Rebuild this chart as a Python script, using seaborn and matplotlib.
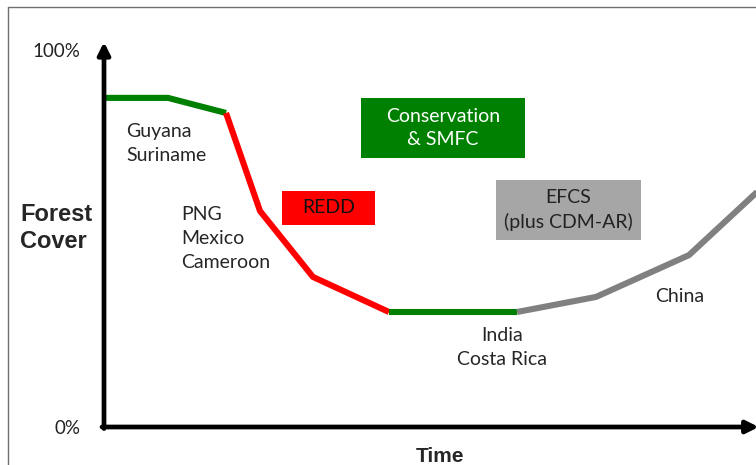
import matplotlib.pyplot as plt
import matplotlib as mpl
from matplotlib.patches import Rectangle
import seaborn as sns
import pandas as pd

# forest transition curve (time in arbitrary units, cover in %)
time = [0, 6.4, 12.2, 15.6, 20.9, 28.5, 41.3, 49.2, 58.5, 67.0]
cover = [87.3, 87.3, 83.3, 57.3, 39.8, 30.5, 30.5, 34.5, 45.6, 66.5]
# colour phases: (first index, last index, phase)
phases = [(0, 2, 'conservation'), (2, 5, 'redd'), (5, 6, 'conservation'), (6, 9, 'efcs')]
phase_colors = {'conservation': '#008000', 'redd': '#FF0000', 'efcs': '#808080'}

y_ticks = [0, 100]
y_tick_labels = ['0%', '100%']

sns.set_theme(style="white")
mpl.rcParams.update({
    'font.family': ['Lato', 'DejaVu Sans'],
    'font.size': 14,
})

fig = plt.figure(figsize=(7.56, 4.65), dpi=100)
W, H = 756, 465
ax = fig.add_axes([104 / W, (H - 427) / H, 658 / W, (427 - 42) / H])

for i0, i1, ph in phases:
    seg = pd.DataFrame({'Time': time[i0:i1 + 1], 'Cover': cover[i0:i1 + 1]})
    sns.lineplot(data=seg, x='Time', y='Cover', sort=False, color=phase_colors[ph],
                 linewidth=4.4, ax=ax, solid_capstyle='butt')

ax.set_xlim(0, 65.8)
ax.set_ylim(0, (427 - 42) / 3.77)
ax.set_xticks([])
ax.set_yticks(y_ticks)
ax.set_yticklabels(y_tick_labels, fontsize=13.5, color='#222222')
ax.tick_params(axis='y', length=0, pad=17)
ax.set_xlabel('')
ax.set_ylabel('')
for s in ax.spines.values():
    s.set_visible(False)

# axis arrows
arrow = dict(arrowstyle='-|>', lw=3.4, color='black', mutation_scale=18, shrinkA=0, shrinkB=0)
ax.annotate('', xy=(0, 1), xytext=(0, -0.004), xycoords='axes fraction', arrowprops=arrow)
ax.annotate('', xy=(0.995, 0), xytext=(-0.003, 0), xycoords='axes fraction', arrowprops=arrow)

# policy boxes
boxes = [
    (25.7, 71.4, 16.4, 15.9, '#008000', 'Conservation\n& SMFC', 'white'),
    (17.8, 53.6, 9.3, 9.0, '#FF0000', 'REDD', '#111111'),
    (39.2, 49.6, 14.5, 15.9, '#A6A6A6', 'EFCS\n(plus CDM-AR)', '#222222'),
]
for x0, y0, w, h, fc, txt, tc in boxes:
    ax.add_patch(Rectangle((x0, y0), w, h, facecolor=fc, edgecolor='none', zorder=3))
    ax.text(x0 + w / 2, y0 + h / 2, txt, ha='center', va='center', color=tc,
            linespacing=1.45, zorder=4)

# country labels
ax.text(2.2, 75.3, 'Guyana\nSuriname', ha='left', va='center', linespacing=1.5)
ax.text(7.7, 49.9, 'PNG\nMexico\nCameroon', ha='left', va='center', linespacing=1.5)
ax.text(39.8, 21.2, 'India\nCosta Rica', ha='center', va='center', linespacing=1.5)
ax.text(57.6, 34.5, 'China', ha='center', va='center')

fig.text(20 / W, 1 - 228 / H, 'Forest\nCover', ha='left', va='center', fontsize=17,
         fontweight='bold', family='Liberation Sans', linespacing=1.2)
fig.text(440 / W, 1 - 456 / H, 'Time', ha='center', va='center', fontsize=15,
         fontweight='bold', family='Liberation Sans')

# slide frame
fig.add_artist(plt.Line2D([8 / W, 8 / W], [0, 1 - 7 / H], color='#6F6F6F', lw=1))
fig.add_artist(plt.Line2D([8 / W, 1], [1 - 7 / H, 1 - 7 / H], color='#6F6F6F', lw=1))

plt.savefig('out.png', dpi=100)
